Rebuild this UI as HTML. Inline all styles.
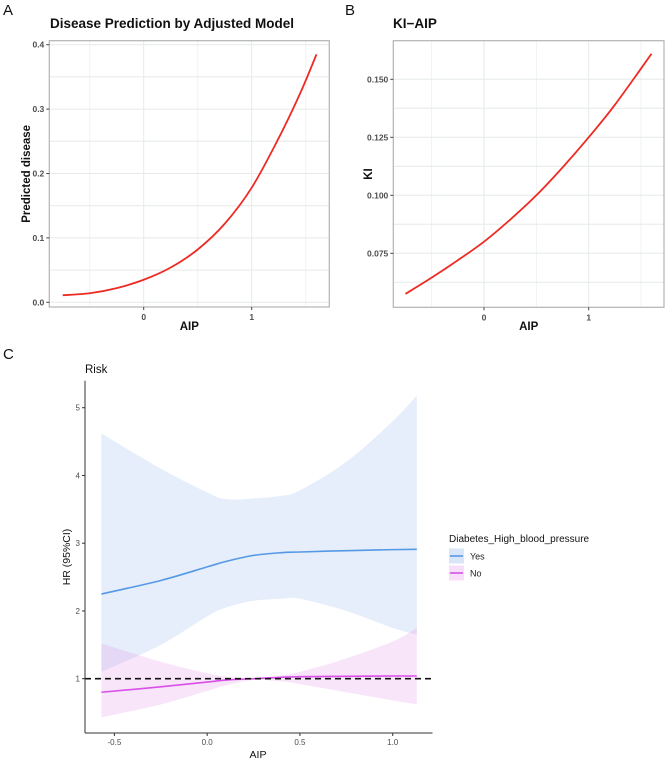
<!DOCTYPE html>
<html><head><meta charset="utf-8"><style>
html,body{margin:0;padding:0;background:#fff;overflow:hidden;}
svg{display:block;font-family:"Liberation Sans",sans-serif;}
</style></head><body>
<svg id="fig" width="669" height="760" viewBox="0 0 669 760"></svg>
<script>
// Panel A data
const aX = [-0.75,-0.5,-0.25,0,0.25,0.5,0.75,1,1.25,1.45,1.6];
const aY = [0.011,0.014,0.022,0.035,0.054,0.082,0.122,0.178,0.255,0.325,0.385];
const aYTicks = [0,0.1,0.2,0.3,0.4];
const aYLabels = ["0.0","0.1","0.2","0.3","0.4"];
const aXTicks = [0,1];
// Panel B data
const bX = [-0.75,-0.5,-0.25,0,0.25,0.5,0.75,1,1.25,1.6];
const bY = [0.0575,0.0645,0.072,0.080,0.0895,0.100,0.112,0.125,0.139,0.161];
const bYTicks = [0.075,0.1,0.125,0.15];
const bYLabels = ["0.075","0.100","0.125","0.150"];
const bXTicks = [0,1];
// Panel C data
const cX = [-0.57,-0.25,0,0.1,0.25,0.4,0.5,0.75,1.0,1.13];
const yesFit = [2.25,2.45,2.65,2.73,2.82,2.86,2.87,2.89,2.905,2.91];
const yesUp = [4.62,4.1,3.75,3.65,3.66,3.7,3.78,4.2,4.8,5.18];
const yesLo = [1.1,1.5,1.92,2.05,2.15,2.18,2.18,2.0,1.75,1.65];
const noFit = [0.8,0.88,0.95,0.98,1.0,1.02,1.03,1.035,1.04,1.04];
const noUp = [1.52,1.25,1.08,1.03,1.0,1.05,1.1,1.3,1.55,1.75];
const noLo = [0.43,0.62,0.82,0.9,0.98,0.96,0.92,0.8,0.68,0.62];
const cYTicks = [1,2,3,4,5];
const cXTicks = [-0.5,0,0.5,1.0];
const cXLabels = ["-0.5","0.0","0.5","1.0"];

const NS="http://www.w3.org/2000/svg";
const svg=document.getElementById('fig');
function el(tag,attrs,parent,text){const e=document.createElementNS(NS,tag);for(const k in attrs)e.setAttribute(k,attrs[k]);if(text!==undefined)e.textContent=text;(parent||svg).appendChild(e);return e;}
function lin(d0,d1,r0,r1){return v=>r0+(v-d0)/(d1-d0)*(r1-r0);}
function smooth(pts){let d="M"+pts[0][0]+","+pts[0][1];for(let i=0;i<pts.length-1;i++){const p0=pts[Math.max(0,i-1)],p1=pts[i],p2=pts[i+1],p3=pts[Math.min(pts.length-1,i+2)];const c1x=p1[0]+(p2[0]-p0[0])/6,c1y=p1[1]+(p2[1]-p0[1])/6,c2x=p2[0]-(p3[0]-p1[0])/6,c2y=p2[1]-(p3[1]-p1[1])/6;d+=" C"+c1x+","+c1y+" "+c2x+","+c2y+" "+p2[0]+","+p2[1];}return d;}

function gridPanel(opt){
  const g=el('g',{});
  
  
  const {x0,x1,y0,y1,sx,sy}=opt;
  opt.xGrid.forEach(v=>el('line',{x1:sx(v),x2:sx(v),y1:y0,y2:y1,stroke:v%1===0?'#e6eaea':'#f0f3f3','stroke-width':1},g));
  opt.yGrid.forEach(v=>el('line',{x1:x0,x2:x1,y1:sy(v),y2:sy(v),stroke:'#e6eaea','stroke-width':1},g));
  el('rect',{x:x0,y:y0,width:x1-x0,height:y1-y0,fill:'none',stroke:'#b3b3b3','stroke-width':1.2},g);
  opt.yTicks.forEach((v,i)=>{const y=sy(v);el('line',{x1:x0-3,x2:x0,y1:y,y2:y,stroke:'#444'},g);
    const t=el('text',{x:x0-5,y:y+3,'text-anchor':'end','font-size':8.5,'font-weight':'bold',fill:'#4d4d4d'},g,opt.yLabels[i]);
    });
  opt.xTicks.forEach(v=>{const x=sx(v);el('line',{x1:x,x2:x,y1:y1,y2:y1+3,stroke:'#444'},g);
    const t=el('text',{x:x,y:y1+13,'text-anchor':'middle','font-size':8.5,'font-weight':'bold',fill:'#4d4d4d'},g,String(v));
    });
  const pts=opt.xs.map((v,i)=>[sx(v),sy(opt.ys[i])]);
  const p=el('path',{d:smooth(pts),fill:'none',stroke:'#ee2a24','stroke-width':1.8},g);
  
  const tt=el('text',{x:opt.titleX,y:28,'font-size':13.5,'font-weight':'bold',fill:'#111'},g,opt.title);
  
  const xl=el('text',{x:(x0+x1)/2,y:330,'text-anchor':'middle','font-size':11.5,'font-weight':'bold',fill:'#111'},g,'AIP');
  
  const yl=el('text',{x:0,y:0,'text-anchor':'middle','font-size':11.5,'font-weight':'bold',fill:'#111',transform:`translate(${opt.ylX},${(y0+y1)/2}) rotate(-90)`},g,opt.ylab);
  
  const lab=el('text',{x:opt.labX,y:15,'font-size':15,fill:'#111'},g,opt.letter);
  
}

{const sx=lin(0,1,143.7,251.7), sy=lin(0,0.4,302.3,44.7);
gridPanel({name:'panel-a',x0:49.3,x1:329.3,y0:40.7,y1:307,sx,sy,xGrid:[-0.5,0,0.5,1,1.5],yGrid:[0,0.05,0.1,0.15,0.2,0.25,0.3,0.35,0.4],
yTicks:aYTicks,yLabels:aYLabels,xTicks:aXTicks,xs:aX,ys:aY,title:'Disease Prediction by Adjusted Model',titleX:50,ylab:'Predicted disease',ylX:30,letter:'A',labX:3});}
{const sx=lin(0,1,484,588.7), sy=lin(0.075,0.15,253.3,79.3);
gridPanel({name:'panel-b',x0:393.3,x1:664,y0:40.7,y1:307.3,sx,sy,xGrid:[-0.5,0,0.5,1,1.5],yGrid:[0.0625,0.075,0.0875,0.1,0.1125,0.125,0.1375,0.15],
yTicks:bYTicks,yLabels:bYLabels,xTicks:bXTicks,xs:bX,ys:bY,title:'KI\u2212AIP',titleX:393,ylab:'KI',ylX:372,letter:'B',labX:345});}

{const g=el('g',{});


const sx=lin(-0.5,1.0,114.4,392.7), sy=lin(1,5,678.7,407.7);
function band(up,lo,fill,name){const a=cX.map((v,i)=>[sx(v),sy(up[i])]);const b=cX.map((v,i)=>[sx(v),sy(lo[i])]).reverse();
  let d=smooth(a)+" L"+b[0][0]+","+b[0][1]+smooth(b).replace(/^M[^C]*/,' ')+" Z";
  const p=el('path',{d:d,fill:fill,stroke:'none'},g);}
band(yesUp,yesLo,'rgba(180,205,240,0.35)','ci-band-yes');
band(noUp,noLo,'rgba(230,150,235,0.25)','ci-band-no');
const ly=el('path',{d:smooth(cX.map((v,i)=>[sx(v),sy(yesFit[i])])),fill:'none',stroke:'#5599e6','stroke-width':1.6},g);

const ln=el('path',{d:smooth(cX.map((v,i)=>[sx(v),sy(noFit[i])])),fill:'none',stroke:'#d94fe8','stroke-width':1.6},g);

const ref=el('line',{x1:85,x2:432,y1:sy(1),y2:sy(1),stroke:'#111','stroke-width':1.6,'stroke-dasharray':'6,4'},g);

el('line',{x1:85,x2:85,y1:380.7,y2:733,stroke:'#333','stroke-width':1},g);
el('line',{x1:85,x2:432.5,y1:733,y2:733,stroke:'#333','stroke-width':1},g);
cYTicks.forEach(v=>{const y=sy(v);el('line',{x1:82,x2:85,y1:y,y2:y,stroke:'#333'},g);
  const t=el('text',{x:80,y:y+3,'text-anchor':'end','font-size':8,fill:'#4d4d4d'},g,String(v));
  });
cXTicks.forEach((v,i)=>{const x=sx(v);el('line',{x1:x,x2:x,y1:733,y2:736,stroke:'#333'},g);
  const t=el('text',{x:x,y:745,'text-anchor':'middle','font-size':8,fill:'#4d4d4d'},g,cXLabels[i]);
  });
const xt=el('text',{x:258,y:758,'text-anchor':'middle','font-size':10.5,fill:'#111'},g,'AIP');

const yt=el('text',{x:0,y:0,'text-anchor':'middle','font-size':10.5,fill:'#111',transform:'translate(70,557) rotate(-90)'},g,'HR (95%CI)');

const rk=el('text',{x:85,y:373,'font-size':11.5,fill:'#111'},g,'Risk');

const lc=el('text',{x:3,y:359,'font-size':15,fill:'#111'},g,'C');

const lg=el('g',{},g);


el('text',{x:449,y:542,'font-size':10,fill:'#111'},lg,'Diabetes_High_blood_pressure');
[['Yes','rgba(180,205,240,0.5)','#5599e6',556],['No','rgba(230,150,235,0.3)','#d94fe8',573]].forEach(k=>{
  const e=el('g',{},lg);
  
  
  el('rect',{x:449,y:k[3]-7.5,width:15,height:15,fill:k[1]},e);
  el('line',{x1:450,x2:463,y1:k[3],y2:k[3],stroke:k[2],'stroke-width':1.6},e);
  el('text',{x:470,y:k[3]+3.5,'font-size':9,fill:'#222'},e,k[0]);
});
}
</script>
</body></html>
